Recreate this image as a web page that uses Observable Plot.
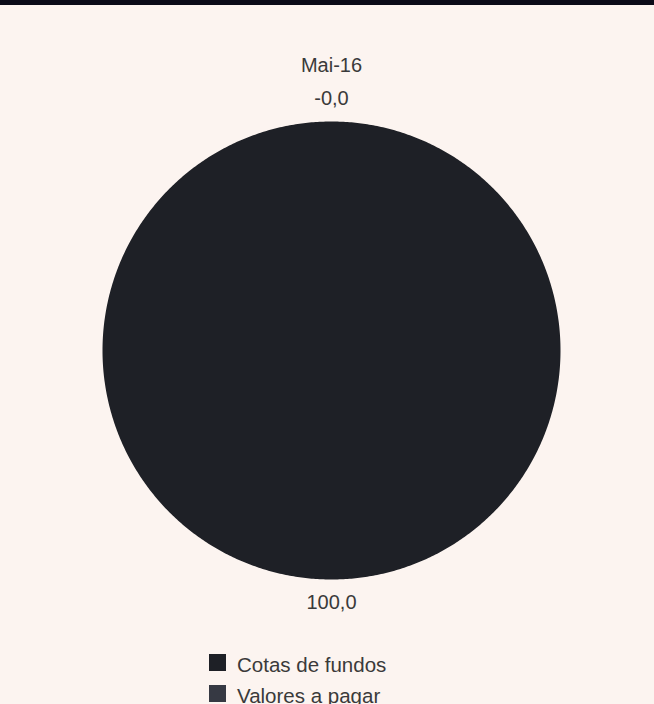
<!DOCTYPE html>
<html>
<head>
<meta charset="utf-8">
<script src="https://cdn.jsdelivr.net/npm/d3@7"></script>
<script src="https://cdn.jsdelivr.net/npm/@observablehq/plot@0.6"></script>
<style>
  html, body { margin: 0; padding: 0; background: #fcf4f0; }
  body { width: 654px; height: 704px; position: relative; overflow: hidden; font-family: "Liberation Sans", Arial, sans-serif; }
  #topbar { height: 5px; background: #0b0b18; }
  #chart svg { display: block; }
  #legend { position: absolute; left: 209px; top: 654px; }
  .row { display: flex; align-items: center; height: 17px; margin-bottom: 14px; }
  .sw { width: 17px; height: 17px; margin-right: 11px; }
  .lab { font-size: 20.5px; line-height: 20px; color: #3a3a3a; position: relative; top: 2px; white-space: nowrap; }
</style>
</head>
<body>
<div id="topbar"></div>
<div id="chart"></div>
<div id="legend"></div>
<script>
// ---- data ----
const seriesName = "Mai-16";
const categories = ["Cotas de fundos", "Valores a pagar"];
const values = [100.0, -0.02];
const colors = ["#1e2026", "#363943"];

// ---- build ----
const locale = d3.formatLocale({decimal: ",", thousands: ".", grouping: [3], currency: ["R$", ""], minus: "-"});
const fmtAbs = locale.format(".1f");
const fmt = v => (v < 0 ? "-" : "") + fmtAbs(Math.abs(v));

const data = categories.map((c, i) => ({cat: c, value: values[i]}));
const arcs = d3.pie().sort(null).value(d => Math.max(0, d.value))(data);

const step = Math.PI / 360;
const pts = [];
arcs.forEach(a => {
  if (a.endAngle - a.startAngle <= 0) return;
  pts.push({cat: a.data.cat, x: 0, y: 0});
  for (let t = a.startAngle; t < a.endAngle; t += step) {
    pts.push({cat: a.data.cat, x: Math.sin(t), y: Math.cos(t)});
  }
  pts.push({cat: a.data.cat, x: Math.sin(a.endAngle), y: Math.cos(a.endAngle)});
});

const labelR = 1.1;
const labelData = arcs.map(a => {
  const m = (a.startAngle + a.endAngle) / 2;
  return {x: labelR * Math.sin(m), y: labelR * Math.cos(m), text: fmt(a.data.value)};
});

const chart = Plot.plot({
  width: 654,
  height: 640,
  marginLeft: 102,
  marginRight: 94,
  marginTop: 116,
  marginBottom: 66,
  x: {domain: [-1, 1], axis: null},
  y: {domain: [-1, 1], axis: null},
  color: {domain: categories, range: colors},
  style: {background: "transparent", fontFamily: "'Liberation Sans', Arial, sans-serif", overflow: "visible"},
  marks: [
    Plot.line(pts, {x: "x", y: "y", z: "cat", fill: "cat", stroke: "none", curve: "linear-closed"}),
    Plot.text(labelData, {x: "x", y: "y", text: "text", fontSize: 20, fill: "#3a3a3a", lineAnchor: "middle"}),
    Plot.text([seriesName], {frameAnchor: "top", dy: -56, text: d => d, fontSize: 20, fill: "#3a3a3a", lineAnchor: "middle"})
  ]
});
document.getElementById("chart").appendChild(chart);

const legend = d3.select("#legend");
categories.forEach((c, i) => {
  const row = legend.append("div").attr("class", "row");
  row.append("div").attr("class", "sw").style("background", colors[i]);
  row.append("div").attr("class", "lab").text(c);
});
</script>
</body>
</html>
